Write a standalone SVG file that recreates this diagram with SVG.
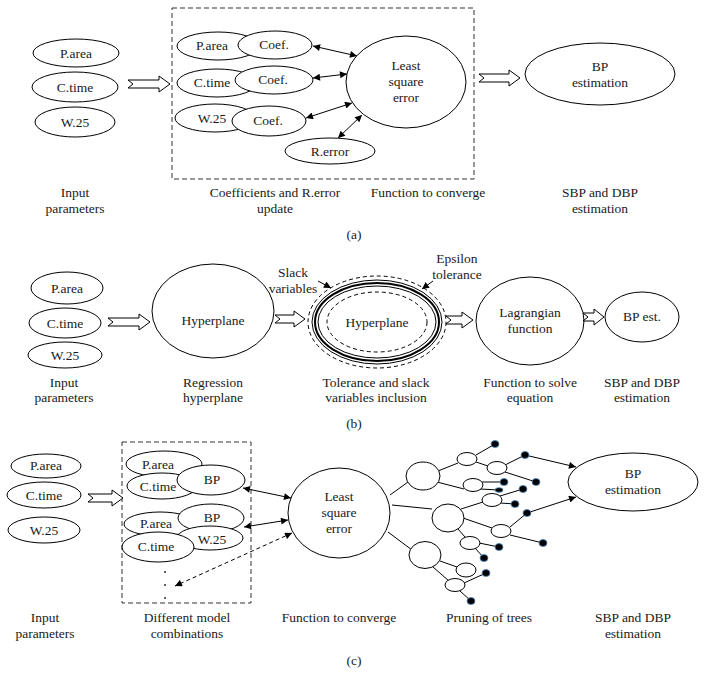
<svg xmlns="http://www.w3.org/2000/svg" width="707" height="686" viewBox="0 0 707 686" font-family="'Liberation Serif', 'DejaVu Serif', serif">
<defs>
<marker id="ah" viewBox="0 0 10 10" refX="10" refY="5" markerWidth="9" markerHeight="7" markerUnits="userSpaceOnUse" orient="auto-start-reverse">
<path d="M0,0 L10,5 L0,10 z" fill="#000"/>
</marker>
<style>
text{font-family:'Liberation Serif','DejaVu Serif',serif;font-size:13.5px;fill:#1a1a1a;text-anchor:middle}
.n{fill:#fff;stroke:#000;stroke-width:1}
.hol{fill:#fff;stroke:#000;stroke-width:1;stroke-linejoin:miter}
.box{fill:none;stroke:#333;stroke-width:1;stroke-dasharray:5,3}
.dl{fill:none;stroke:#000;stroke-width:1;stroke-dasharray:4,3}
.ln{stroke:#000;stroke-width:1;fill:none}
.ar{stroke:#000;stroke-width:1;fill:none;marker-start:url(#ah);marker-end:url(#ah)}
.ar1{stroke:#000;stroke-width:1;fill:none;marker-end:url(#ah)}
.dot{fill:#000;stroke:#4a8cc4;stroke-width:0.8}
</style>
</defs>
<rect width="707" height="686" fill="#fff"/>

<!-- ============ Panel (a) ============ -->
<g id="a-inputs">
<ellipse class="n" cx="76" cy="53" rx="43" ry="14"/><text x="76" y="58">P.area</text>
<ellipse class="n" cx="75" cy="87" rx="43" ry="15"/><text x="75" y="92">C.time</text>
<ellipse class="n" cx="75" cy="122" rx="40" ry="15"/><text x="75" y="127">W.25</text>
</g>
<rect id="a-box" class="box" x="172" y="8" width="302" height="171"/>
<g id="a-coef1">
<ellipse class="n" cx="218" cy="46" rx="41" ry="14"/><text x="212" y="50">P.area</text>
<ellipse class="n" cx="275" cy="45" rx="37" ry="14"/><text x="274" y="49">Coef.</text>
</g>
<g id="a-coef2">
<ellipse class="n" cx="217" cy="83" rx="40" ry="14"/><text x="212" y="87">C.time</text>
<ellipse class="n" cx="274" cy="80" rx="39" ry="14"/><text x="273" y="84">Coef.</text>
</g>
<g id="a-coef3">
<ellipse class="n" cx="215" cy="118" rx="40" ry="14"/><text x="212" y="123">W.25</text>
<ellipse class="n" cx="269" cy="121" rx="37" ry="15"/><text x="268" y="125">Coef.</text>
</g>
<g id="a-rerror"><ellipse class="n" cx="330" cy="151" rx="45" ry="13"/><text x="330" y="156">R.error</text></g>
<g id="a-lse"><ellipse class="n" cx="406" cy="82" rx="60" ry="46"/>
<text x="406" y="70">Least</text><text x="406" y="86">square</text><text x="406" y="102">error</text></g>
<g id="a-bp"><ellipse class="n" cx="600" cy="74" rx="75" ry="31"/>
<text x="600" y="71">BP</text><text x="600" y="87">estimation</text></g>
<g id="a-connectors">
<polygon class="hol" points="128,80 159,80 159,76 170,84 159,92 159,88 128,88 133,84"/>
<polygon class="hol" points="479,74 509,74 509,70 520,78 509,86 509,82 479,82 484,78"/>
<line class="ar" x1="313" y1="46" x2="357" y2="56"/>
<line class="ar" x1="313" y1="78" x2="347" y2="74"/>
<line class="ar" x1="306" y1="118" x2="352" y2="103"/>
<line class="ar" x1="338" y1="138" x2="362" y2="115"/>
</g>
<g id="a-labels">
<text x="75" y="197">Input</text><text x="75" y="213">parameters</text>
<text x="275" y="197">Coefficients and R.error</text><text x="275" y="213">update</text>
<text x="428" y="197">Function to converge</text>
<text x="600" y="197">SBP and DBP</text><text x="600" y="213">estimation</text>
<text x="354" y="239">(a)</text>
</g>

<!-- ============ Panel (b) ============ -->
<g id="b-inputs">
<ellipse class="n" cx="67" cy="288" rx="36" ry="16"/><text x="67" y="293">P.area</text>
<ellipse class="n" cx="65" cy="323" rx="36" ry="15"/><text x="65" y="328">C.time</text>
<ellipse class="n" cx="65" cy="355" rx="37" ry="13"/><text x="65" y="360">W.25</text>
</g>
<g id="b-hyper1"><ellipse class="n" cx="213" cy="311" rx="61" ry="47"/><text x="213" y="325">Hyperplane</text></g>
<g id="b-hyper2">
<ellipse cx="377" cy="322" rx="69" ry="46" class="dl"/>
<ellipse cx="377" cy="322" rx="65" ry="42" fill="none" stroke="#000" stroke-width="1"/>
<ellipse cx="377" cy="322" rx="62" ry="39" fill="none" stroke="#000" stroke-width="2"/>
<ellipse cx="377" cy="322" rx="59" ry="36" fill="none" stroke="#000" stroke-width="1"/>
<ellipse cx="377" cy="322" rx="50" ry="30" class="dl"/>
<text x="377" y="327">Hyperplane</text>
</g>
<g id="b-slack"><text x="293" y="277">Slack</text><text x="293" y="293">variables</text></g>
<g id="b-epsilon"><text x="457" y="263">Epsilon</text><text x="457" y="279">tolerance</text></g>
<g id="b-lagr"><ellipse class="n" cx="530" cy="321" rx="54" ry="44"/>
<text x="530" y="317">Lagrangian</text><text x="530" y="333">function</text></g>
<g id="b-bp"><ellipse class="n" cx="642" cy="317" rx="37" ry="25"/><text x="642" y="321">BP est.</text></g>
<g id="b-connectors">
<polygon class="hol" points="108,318 139,318 139,314 150,322 139,330 139,326 108,326 113,322"/>
<polygon class="hol" points="275,315 294,315 294,311 305,319 294,327 294,323 275,323 280,319"/>
<polygon class="hol" points="446,316 462,316 462,312 473,320 462,328 462,324 446,324 451,320"/>
<polygon class="hol" points="583,313 594,313 594,309 604,317 594,325 594,321 583,321 588,317"/>
<line class="ar1" x1="318" y1="281" x2="331" y2="288"/>
<line class="ar1" x1="433" y1="281" x2="422" y2="289"/>
</g>
<g id="b-labels">
<text x="64" y="387">Input</text><text x="64" y="402">parameters</text>
<text x="213" y="387">Regression</text><text x="213" y="402">hyperplane</text>
<text x="376" y="387">Tolerance and slack</text><text x="376" y="402">variables inclusion</text>
<text x="530" y="387">Function to solve</text><text x="530" y="402">equation</text>
<text x="642" y="387">SBP and DBP</text><text x="642" y="402">estimation</text>
<text x="354" y="428">(b)</text>
</g>

<!-- ============ Panel (c) ============ -->
<g id="c-inputs">
<ellipse class="n" cx="46" cy="466" rx="35" ry="12"/><text x="46" y="470">P.area</text>
<ellipse class="n" cx="44" cy="495" rx="37" ry="13"/><text x="44" y="500">C.time</text>
<ellipse class="n" cx="44" cy="530" rx="36" ry="13"/><text x="44" y="535">W.25</text>
</g>
<rect id="c-box" class="box" x="122" y="442" width="129" height="161"/>
<g id="c-model1">
<ellipse class="n" cx="164" cy="464" rx="38" ry="13"/><text x="158" y="469">P.area</text>
<ellipse class="n" cx="162" cy="486" rx="35" ry="13"/><text x="158" y="491">C.time</text>
<ellipse class="n" cx="211" cy="480" rx="34" ry="15"/><text x="212" y="484">BP</text>
</g>
<g id="c-model2">
<ellipse class="n" cx="160" cy="524" rx="36" ry="12"/><text x="156" y="528">P.area</text>
<ellipse class="n" cx="211" cy="518" rx="33" ry="14"/><text x="212" y="522">BP</text>
<ellipse class="n" cx="210" cy="538" rx="33" ry="12"/><text x="212" y="544">W.25</text>
<ellipse class="n" cx="158" cy="547" rx="36" ry="15"/><text x="156" y="551">C.time</text>
</g>
<g id="c-ellipsis" fill="#1a1a1a"><circle cx="165" cy="572" r="0.9"/><circle cx="165" cy="585" r="0.9"/><circle cx="165" cy="598" r="0.9"/></g>
<g id="c-lse"><ellipse class="n" cx="339" cy="513" rx="51" ry="45"/>
<text x="339" y="501">Least</text><text x="339" y="517">square</text><text x="339" y="533">error</text></g>
<g id="c-bp"><ellipse class="n" cx="633" cy="482" rx="65" ry="29"/>
<text x="633" y="478">BP</text><text x="633" y="494">estimation</text></g>
<g id="c-connectors">
<polygon class="hol" points="88,494 112,494 112,490 123,498 112,506 112,502 88,502 93,498"/>
<line class="ar" x1="243" y1="488" x2="291" y2="498"/>
<line class="ar" x1="244" y1="527" x2="288" y2="520"/>
<line class="dl" x1="292" y1="533" x2="175" y2="586" style="marker-start:url(#ah);marker-end:url(#ah)"/>
<line class="ln" x1="390" y1="495" x2="408" y2="482"/>
<line class="ln" x1="392" y1="505" x2="432" y2="509"/>
<line class="ln" x1="388" y1="532" x2="412" y2="550"/>
<line class="ln" x1="438" y1="471" x2="458" y2="463"/>
<line class="ln" x1="476" y1="455" x2="495" y2="444"/>
<line class="ln" x1="476" y1="462" x2="488" y2="466"/>
<line class="ln" x1="505" y1="465" x2="525" y2="455"/>
<line class="ln" x1="505" y1="472" x2="536" y2="482"/>
<line class="ln" x1="437" y1="482" x2="464" y2="489"/>
<line class="ln" x1="482" y1="482" x2="504" y2="482"/>
<line class="ln" x1="480" y1="489" x2="499" y2="490"/>
<line class="ln" x1="461" y1="509" x2="483" y2="502"/>
<line class="ln" x1="500" y1="496" x2="523" y2="489"/>
<line class="ln" x1="500" y1="503" x2="515" y2="504"/>
<line class="ln" x1="463" y1="518" x2="492" y2="528"/>
<line class="ln" x1="510" y1="527" x2="527" y2="513"/>
<line class="ln" x1="510" y1="535" x2="543" y2="543"/>
<line class="ln" x1="458" y1="529" x2="465" y2="537"/>
<line class="ln" x1="479" y1="543" x2="499" y2="547"/>
<line class="ln" x1="475" y1="548" x2="484" y2="558"/>
<line class="ln" x1="440" y1="561" x2="457" y2="567"/>
<line class="ln" x1="433" y1="567" x2="449" y2="581"/>
<line class="ln" x1="464" y1="583" x2="486" y2="573"/>
<line class="ln" x1="460" y1="591" x2="471" y2="601"/>
<line class="ar1" x1="525" y1="455" x2="576" y2="467"/>
<line class="ar1" x1="527" y1="513" x2="576" y2="497"/>
</g>
<g id="c-tree-nodes">
<ellipse class="n" cx="423" cy="476" rx="17" ry="14"/>
<ellipse class="n" cx="448" cy="518" rx="16" ry="14"/>
<ellipse class="n" cx="425" cy="555" rx="16" ry="13.5"/>
<ellipse class="n" cx="467" cy="459" rx="10" ry="6.5"/>
<ellipse class="n" cx="497" cy="468" rx="10" ry="6.5"/>
<ellipse class="n" cx="473" cy="485" rx="10" ry="6.5"/>
<ellipse class="n" cx="492" cy="500" rx="10" ry="6.5"/>
<ellipse class="n" cx="501" cy="531" rx="10" ry="6.5"/>
<ellipse class="n" cx="470" cy="543" rx="10" ry="6.5"/>
<ellipse class="n" cx="466" cy="570" rx="10" ry="7"/>
<ellipse class="n" cx="455" cy="585" rx="10" ry="6.5"/>
</g>
<g id="c-leaves">
<ellipse class="dot" cx="495" cy="444" rx="4" ry="3.5"/>
<ellipse class="dot" cx="525" cy="455" rx="4" ry="3.5"/>
<ellipse class="dot" cx="536" cy="482" rx="4" ry="3.5"/>
<ellipse class="dot" cx="504" cy="482" rx="4" ry="3.5"/>
<ellipse class="dot" cx="499" cy="490" rx="4" ry="2.3"/>
<ellipse class="dot" cx="523" cy="489" rx="4" ry="3.5"/>
<ellipse class="dot" cx="515" cy="504" rx="4" ry="3.5"/>
<ellipse class="dot" cx="527" cy="513" rx="4" ry="3.5"/>
<ellipse class="dot" cx="543" cy="543" rx="4" ry="3.5"/>
<ellipse class="dot" cx="499" cy="547" rx="4" ry="3.5"/>
<ellipse class="dot" cx="484" cy="558" rx="4" ry="3.5"/>
<ellipse class="dot" cx="486" cy="573" rx="4" ry="3.5"/>
<ellipse class="dot" cx="471" cy="601" rx="4" ry="3.5"/>
</g>
<g id="c-labels">
<text x="45" y="622">Input</text><text x="45" y="638">parameters</text>
<text x="187" y="622">Different model</text><text x="187" y="638">combinations</text>
<text x="339" y="622">Function to converge</text>
<text x="489" y="622">Pruning of trees</text>
<text x="633" y="622">SBP and DBP</text><text x="633" y="638">estimation</text>
<text x="354" y="665">(c)</text>
</g>
</svg>
